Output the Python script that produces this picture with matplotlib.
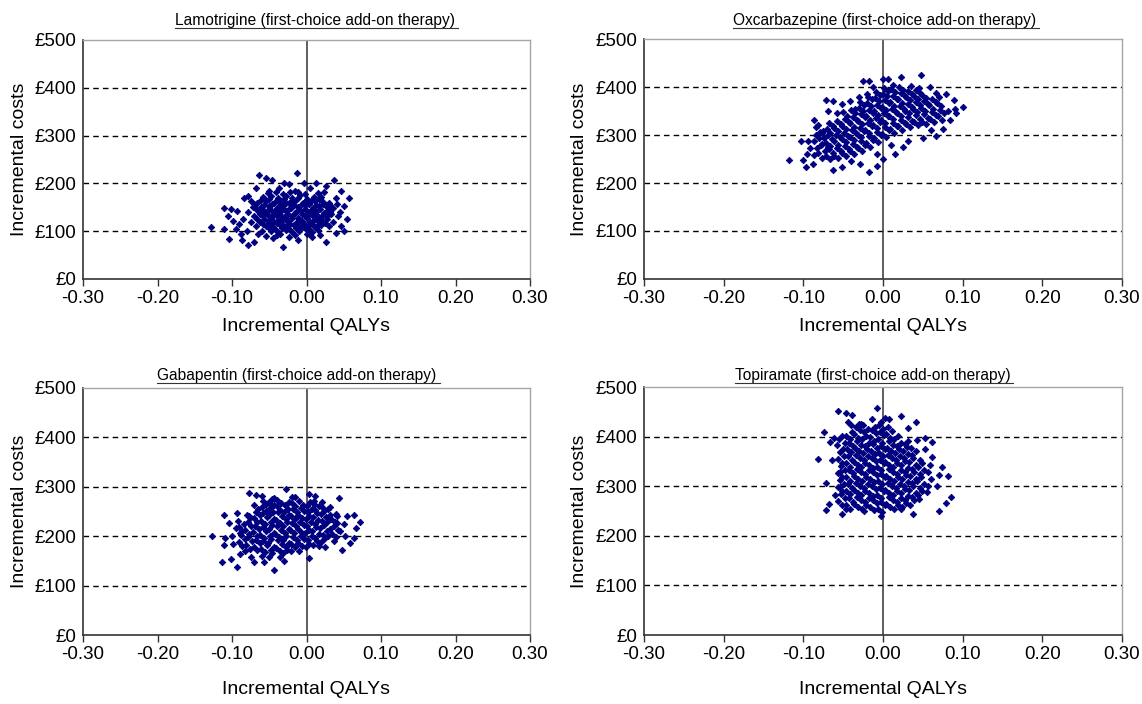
import matplotlib
matplotlib.use('Agg')
import matplotlib.pyplot as plt
from matplotlib.lines import Line2D
import numpy as np

plt.rcParams['font.family'] = ['Liberation Sans', 'DejaVu Sans']

# (incremental QALY, incremental cost in GBP)
lamotrigine = [
    (-0.058, 171), (-0.047, 174), (-0.038, 169), (-0.028, 173), (-0.020, 170), (-0.009, 175), (0.001, 168), (0.010, 172),
    (-0.066, 160), (-0.055, 163), (-0.044, 158), (-0.035, 162), (-0.024, 159), (-0.016, 164), (-0.005, 160), (0.004, 157), (0.012, 163), (0.022, 161),
    (-0.061, 150), (-0.051, 152), (-0.040, 148), (-0.031, 153), (-0.022, 149), (-0.011, 151), (-0.002, 154), (0.009, 148), (0.017, 152), (0.027, 150),
    (-0.064, 141), (-0.054, 139), (-0.046, 143), (-0.036, 140), (-0.027, 142), (-0.015, 138), (-0.007, 143), (0.003, 140), (0.013, 141), (0.023, 139),
    (-0.058, 131), (-0.048, 129), (-0.041, 133), (-0.030, 130), (-0.020, 132), (-0.012, 128), (-0.002, 131), (0.007, 133), (0.017, 129), (0.028, 131),
    (-0.062, 120), (-0.052, 122), (-0.043, 119), (-0.033, 123), (-0.025, 121), (-0.014, 118), (-0.006, 122), (0.005, 120), (0.014, 123), (0.021, 119),
    (-0.055, 111), (-0.045, 109), (-0.036, 112), (-0.027, 110), (-0.017, 113), (-0.008, 108), (0.002, 111), (0.011, 109), (0.019, 112),
    (-0.047, 101), (-0.038, 99), (-0.028, 102), (-0.019, 98), (-0.010, 100), (0.000, 103), (0.008, 99),
    (-0.052, 179), (-0.041, 182), (-0.031, 178), (-0.022, 181), (-0.012, 183), (-0.002, 177), (0.015, 180),
    (-0.061, 166), (-0.050, 168), (-0.040, 165), (-0.030, 167), (-0.019, 164), (-0.011, 169), (0.000, 166), (0.008, 165), (0.017, 168),
    (-0.070, 156), (-0.057, 155), (-0.046, 157), (-0.036, 154), (-0.027, 158), (-0.017, 155), (-0.006, 157), (0.004, 156), (0.013, 154), (0.022, 157), (0.032, 155),
    (-0.068, 146), (-0.059, 145), (-0.050, 147), (-0.041, 144), (-0.032, 146), (-0.021, 148), (-0.011, 145), (-0.002, 147), (0.008, 144), (0.018, 146), (0.029, 145),
    (-0.062, 136), (-0.053, 135), (-0.044, 137), (-0.035, 134), (-0.025, 136), (-0.016, 138), (-0.006, 135), (0.003, 137), (0.012, 136), (0.022, 134), (0.033, 137),
    (-0.067, 126), (-0.057, 125), (-0.047, 127), (-0.038, 124), (-0.029, 126), (-0.019, 128), (-0.010, 125), (0.001, 127), (0.010, 124), (0.019, 126), (0.027, 125),
    (-0.059, 116), (-0.049, 115), (-0.040, 117), (-0.031, 114), (-0.022, 116), (-0.012, 118), (-0.003, 115), (0.007, 116), (0.016, 114), (0.025, 117),
    (-0.051, 106), (-0.042, 105), (-0.033, 107), (-0.023, 104), (-0.014, 106), (-0.005, 108), (0.004, 105), (0.013, 106),
    (-0.035, 94), (-0.015, 93), (0.000, 95),
    (-0.128, 108), (-0.013, 222), (-0.064, 217), (-0.055, 212), (0.037, 207), (0.057, 169), (0.055, 126), (-0.032, 66),
    (0.026, 78), (-0.079, 71), (-0.086, 81), (-0.104, 83), (-0.111, 105), (-0.111, 149), (-0.102, 146), (-0.093, 142),
    (-0.106, 131), (-0.099, 122), (-0.095, 104), (-0.070, 78), (-0.039, 92), (-0.023, 87), (0.008, 87), (0.039, 97),
    (0.046, 111), (0.051, 153), (0.046, 184), (0.026, 194), (0.013, 201), (-0.003, 201), (-0.023, 198), (-0.037, 191),
    (-0.046, 208), (-0.079, 174), (-0.084, 170), (-0.075, 163), (0.024, 181), (0.039, 170), (0.035, 149), (0.042, 132),
    (-0.072, 150), (-0.078, 140), (-0.085, 125), (-0.075, 120), (-0.068, 110), (-0.080, 100), (-0.065, 95), (-0.055, 90),
    (-0.090, 115), (-0.070, 131), (-0.012, 82), (0.005, 95), (0.018, 92), (0.030, 110), (0.035, 120), (0.031, 140),
    (0.030, 160), (0.020, 172), (0.041, 156), (0.045, 141), (-0.050, 185), (-0.068, 190), (-0.030, 200), (0.005, 190),
    (-0.015, 185), (0.015, 103), (-0.060, 101), (-0.045, 85), (-0.088, 95), (0.050, 100),
]

oxcarbazepine = [
    (-0.086, 258), (-0.083, 272), (-0.087, 287), (-0.084, 300),
    (-0.076, 252), (-0.073, 266), (-0.077, 281), (-0.074, 294), (-0.075, 309),
    (-0.066, 250), (-0.063, 263), (-0.067, 277), (-0.064, 292), (-0.066, 305), (-0.063, 319),
    (-0.056, 253), (-0.053, 266), (-0.057, 280), (-0.054, 295), (-0.056, 308), (-0.053, 322),
    (-0.046, 256), (-0.043, 270), (-0.047, 285), (-0.044, 298), (-0.046, 312), (-0.043, 327), (-0.045, 339),
    (-0.036, 261), (-0.033, 275), (-0.037, 289), (-0.034, 304), (-0.036, 317), (-0.033, 331), (-0.035, 345),
    (-0.026, 266), (-0.023, 280), (-0.027, 295), (-0.024, 308), (-0.026, 322), (-0.023, 337), (-0.025, 350), (-0.024, 362),
    (-0.016, 276), (-0.013, 290), (-0.017, 304), (-0.014, 319), (-0.016, 332), (-0.013, 346), (-0.015, 361), (-0.014, 374),
    (-0.006, 286), (-0.003, 300), (-0.007, 315), (-0.004, 328), (-0.006, 342), (-0.003, 357), (-0.005, 370), (-0.004, 384),
    (0.004, 296), (0.007, 310), (0.003, 324), (0.006, 339), (0.004, 352), (0.007, 366), (0.005, 381), (0.006, 391),
    (0.014, 305), (0.017, 319), (0.013, 334), (0.016, 347), (0.014, 361), (0.017, 376), (0.015, 389),
    (0.024, 311), (0.027, 325), (0.023, 339), (0.026, 354), (0.024, 367), (0.027, 381), (0.025, 393),
    (0.034, 316), (0.037, 330), (0.033, 345), (0.036, 358), (0.034, 372), (0.037, 385),
    (0.044, 320), (0.047, 334), (0.043, 348), (0.046, 363), (0.044, 376), (0.047, 387),
    (0.054, 322), (0.057, 336), (0.053, 351), (0.056, 364), (0.054, 378),
    (0.064, 327), (0.067, 341), (0.063, 355), (0.066, 369),
    (0.074, 332), (0.077, 346), (0.073, 360),
    (-0.081, 262), (-0.078, 279), (-0.080, 293), (-0.079, 307), (-0.081, 320),
    (-0.071, 257), (-0.068, 270), (-0.072, 284), (-0.069, 299), (-0.070, 312), (-0.068, 326),
    (-0.061, 257), (-0.058, 273), (-0.062, 287), (-0.059, 301), (-0.061, 315), (-0.058, 329),
    (-0.051, 262), (-0.048, 277), (-0.052, 291), (-0.049, 305), (-0.051, 319), (-0.048, 333), (-0.050, 347),
    (-0.041, 267), (-0.038, 282), (-0.042, 296), (-0.039, 310), (-0.041, 324), (-0.038, 338), (-0.040, 352),
    (-0.031, 273), (-0.028, 287), (-0.032, 301), (-0.029, 315), (-0.031, 329), (-0.028, 343), (-0.030, 357), (-0.029, 369),
    (-0.021, 283), (-0.018, 297), (-0.022, 311), (-0.019, 325), (-0.021, 339), (-0.018, 353), (-0.020, 367), (-0.019, 380),
    (-0.011, 293), (-0.008, 307), (-0.012, 321), (-0.009, 335), (-0.011, 349), (-0.008, 363), (-0.010, 377), (-0.009, 390),
    (-0.001, 303), (0.002, 317), (-0.002, 331), (0.001, 345), (-0.001, 359), (0.002, 373), (0.000, 386), (0.001, 398),
    (0.009, 312), (0.012, 326), (0.008, 340), (0.011, 354), (0.009, 368), (0.012, 382), (0.010, 396),
    (0.019, 318), (0.022, 332), (0.018, 346), (0.021, 360), (0.019, 374), (0.022, 388), (0.020, 399),
    (0.029, 323), (0.032, 337), (0.028, 351), (0.031, 365), (0.029, 379), (0.032, 392),
    (0.039, 327), (0.042, 341), (0.038, 355), (0.041, 369), (0.039, 382), (0.042, 394),
    (0.049, 328), (0.052, 343), (0.048, 357), (0.051, 371), (0.049, 384),
    (0.059, 334), (0.062, 348), (0.058, 362), (0.061, 375),
    (0.069, 339), (0.072, 353), (0.068, 367),
    (-0.118, 247), (0.048, 424), (0.100, 358), (0.092, 345), (0.089, 372), (0.079, 386), (0.067, 388), (0.059, 401),
    (0.023, 420), (0.000, 417), (0.006, 417), (-0.025, 413), (-0.017, 412), (-0.086, 331), (-0.071, 372), (-0.063, 371),
    (-0.052, 364), (-0.042, 371), (-0.103, 288), (-0.094, 288), (-0.100, 247), (-0.097, 234), (-0.088, 239), (-0.063, 228),
    (-0.052, 234), (-0.029, 239), (-0.017, 223), (-0.008, 235), (0.000, 249), (0.015, 261), (0.025, 276), (0.031, 288),
    (0.050, 294), (0.067, 297), (0.075, 312), (0.084, 331), (0.082, 350), (-0.077, 305), (-0.084, 316), (-0.069, 350),
    (-0.069, 275), (-0.095, 260), (-0.092, 272), (-0.058, 345), (-0.035, 355), (-0.040, 245), (-0.012, 400), (0.012, 405),
    (0.035, 402), (0.045, 398), (-0.020, 385), (0.090, 355), (0.060, 310), (0.070, 380), (-0.008, 260), (0.010, 280),
    (-0.030, 380),
]

gabapentin = [
    (-0.086, 180), (-0.083, 195), (-0.087, 211), (-0.084, 225),
    (-0.076, 175), (-0.073, 191), (-0.077, 205), (-0.074, 220), (-0.076, 236),
    (-0.066, 172), (-0.063, 186), (-0.067, 201), (-0.064, 214), (-0.066, 229), (-0.063, 242), (-0.065, 256),
    (-0.056, 168), (-0.053, 183), (-0.057, 196), (-0.054, 211), (-0.056, 224), (-0.053, 239), (-0.055, 252), (-0.054, 266),
    (-0.046, 165), (-0.043, 179), (-0.047, 194), (-0.044, 207), (-0.046, 222), (-0.043, 235), (-0.045, 250), (-0.044, 263), (-0.046, 275),
    (-0.036, 170), (-0.033, 185), (-0.037, 198), (-0.034, 213), (-0.036, 226), (-0.033, 241), (-0.035, 254), (-0.034, 268),
    (-0.026, 172), (-0.023, 187), (-0.027, 200), (-0.024, 215), (-0.026, 228), (-0.023, 243), (-0.025, 256), (-0.024, 270),
    (-0.016, 178), (-0.013, 193), (-0.017, 206), (-0.014, 221), (-0.016, 234), (-0.013, 249), (-0.015, 262),
    (-0.006, 180), (-0.003, 195), (-0.007, 208), (-0.004, 223), (-0.006, 236), (-0.003, 251), (-0.005, 264),
    (0.004, 185), (0.007, 200), (0.003, 213), (0.006, 228), (0.004, 241), (0.007, 256), (0.005, 269),
    (0.014, 190), (0.017, 205), (0.013, 218), (0.016, 233), (0.014, 246), (0.017, 261),
    (0.024, 195), (0.027, 210), (0.023, 223), (0.026, 238), (0.024, 251),
    (0.034, 205), (0.037, 220), (0.033, 234),
    (-0.091, 188), (-0.088, 203), (-0.090, 218),
    (-0.081, 183), (-0.078, 198), (-0.082, 213), (-0.079, 228), (-0.080, 243),
    (-0.071, 179), (-0.068, 193), (-0.072, 208), (-0.069, 221), (-0.071, 236), (-0.068, 249), (-0.070, 263),
    (-0.061, 175), (-0.058, 190), (-0.062, 203), (-0.059, 218), (-0.061, 231), (-0.058, 246), (-0.060, 259), (-0.059, 272),
    (-0.051, 158), (-0.048, 172), (-0.052, 186), (-0.049, 201), (-0.051, 214), (-0.048, 229), (-0.050, 242), (-0.049, 257), (-0.051, 270),
    (-0.041, 177), (-0.038, 192), (-0.042, 205), (-0.039, 220), (-0.041, 233), (-0.038, 248), (-0.040, 261), (-0.039, 274),
    (-0.031, 165), (-0.028, 179), (-0.032, 193), (-0.029, 207), (-0.031, 221), (-0.028, 235), (-0.030, 249), (-0.029, 263),
    (-0.021, 185), (-0.018, 199), (-0.022, 213), (-0.019, 227), (-0.021, 241), (-0.018, 255), (-0.020, 268), (-0.019, 279),
    (-0.011, 187), (-0.008, 201), (-0.012, 215), (-0.009, 229), (-0.011, 243), (-0.008, 257), (-0.010, 271),
    (-0.001, 178), (0.002, 192), (-0.002, 206), (0.001, 220), (-0.001, 234), (0.002, 248), (0.000, 262),
    (0.009, 183), (0.012, 197), (0.008, 211), (0.011, 225), (0.009, 239), (0.012, 253), (0.010, 266),
    (0.019, 188), (0.022, 202), (0.018, 216), (0.021, 230), (0.019, 244), (0.022, 258),
    (0.029, 200), (0.032, 214), (0.028, 228), (0.031, 242), (0.029, 256),
    (0.039, 198), (0.042, 213), (0.038, 228), (0.041, 241),
    (-0.127, 200), (-0.028, 295), (-0.077, 287), (-0.068, 283), (-0.060, 281), (0.003, 285), (0.012, 281), (0.043, 277),
    (0.064, 243), (0.072, 228), (0.066, 217), (0.064, 197), (0.058, 187), (0.048, 173), (0.003, 155), (-0.044, 132),
    (-0.057, 148), (-0.071, 147), (-0.093, 137), (-0.113, 147), (-0.102, 153), (-0.111, 243), (-0.093, 247), (-0.077, 240),
    (-0.104, 227), (-0.109, 197), (-0.098, 185), (-0.111, 183), (-0.089, 163), (-0.075, 157), (-0.030, 150), (-0.021, 170),
    (0.017, 180), (0.037, 190), (0.052, 200), (0.041, 227), (0.055, 240), (0.032, 260), (0.021, 270), (-0.044, 277),
    (-0.051, 267), (-0.089, 207), (-0.095, 217), (-0.100, 200), (-0.092, 230), (-0.082, 170), (-0.060, 160), (0.045, 210),
    (0.040, 245), (0.050, 225), (-0.010, 170), (0.025, 178), (-0.035, 158), (-0.015, 280), (0.010, 272),
]

topiramate = [
    (-0.051, 262), (-0.048, 276), (-0.052, 291), (-0.049, 304), (-0.051, 318), (-0.048, 333), (-0.052, 346), (-0.049, 360), (-0.050, 375), (-0.048, 388), (-0.051, 402),
    (-0.041, 255), (-0.038, 269), (-0.042, 284), (-0.039, 297), (-0.041, 311), (-0.038, 326), (-0.042, 339), (-0.039, 353), (-0.040, 368), (-0.038, 381), (-0.041, 395), (-0.039, 410), (-0.040, 423),
    (-0.031, 258), (-0.028, 272), (-0.032, 287), (-0.029, 300), (-0.031, 314), (-0.028, 329), (-0.032, 342), (-0.029, 356), (-0.030, 371), (-0.028, 384), (-0.031, 398), (-0.029, 413), (-0.030, 426),
    (-0.021, 262), (-0.018, 276), (-0.022, 291), (-0.019, 304), (-0.021, 318), (-0.018, 333), (-0.022, 346), (-0.019, 360), (-0.020, 375), (-0.018, 388), (-0.021, 402), (-0.019, 416),
    (-0.011, 252), (-0.008, 266), (-0.012, 281), (-0.009, 294), (-0.011, 308), (-0.008, 323), (-0.012, 336), (-0.009, 350), (-0.010, 365), (-0.008, 378), (-0.011, 392), (-0.009, 407), (-0.010, 420),
    (-0.001, 248), (0.002, 262), (-0.002, 277), (0.001, 290), (-0.001, 304), (0.002, 319), (-0.002, 332), (0.001, 346), (0.000, 361), (0.002, 374), (-0.001, 388), (0.001, 403), (0.000, 416), (-0.002, 430),
    (0.009, 258), (0.012, 272), (0.008, 287), (0.011, 300), (0.009, 314), (0.012, 329), (0.008, 342), (0.011, 356), (0.010, 371), (0.012, 384), (0.009, 398), (0.011, 412),
    (0.019, 262), (0.022, 276), (0.018, 291), (0.021, 304), (0.019, 318), (0.022, 333), (0.018, 346), (0.021, 360), (0.020, 375), (0.022, 388), (0.019, 402),
    (0.029, 266), (0.032, 280), (0.028, 295), (0.031, 308), (0.029, 322), (0.032, 337), (0.028, 350), (0.031, 364), (0.030, 379), (0.032, 392),
    (0.039, 272), (0.042, 286), (0.038, 301), (0.041, 314), (0.039, 328), (0.042, 343), (0.038, 356), (0.041, 370),
    (0.049, 290), (0.052, 304), (0.048, 319), (0.051, 332), (0.049, 346),
    (-0.056, 270), (-0.053, 284), (-0.057, 298), (-0.054, 312), (-0.056, 326), (-0.053, 340), (-0.057, 354), (-0.054, 368), (-0.055, 396),
    (-0.046, 262), (-0.043, 276), (-0.047, 290), (-0.044, 304), (-0.046, 318), (-0.043, 332), (-0.047, 346), (-0.044, 360), (-0.045, 374), (-0.043, 388), (-0.046, 402), (-0.044, 430),
    (-0.036, 265), (-0.033, 279), (-0.037, 293), (-0.034, 307), (-0.036, 321), (-0.033, 335), (-0.037, 349), (-0.034, 363), (-0.035, 377), (-0.033, 391), (-0.036, 405), (-0.034, 419),
    (-0.026, 255), (-0.023, 269), (-0.027, 283), (-0.024, 297), (-0.026, 311), (-0.023, 325), (-0.027, 339), (-0.024, 353), (-0.025, 367), (-0.023, 381), (-0.026, 395), (-0.024, 409), (-0.025, 423),
    (-0.016, 259), (-0.013, 273), (-0.017, 287), (-0.014, 301), (-0.016, 315), (-0.013, 329), (-0.017, 343), (-0.014, 357), (-0.015, 371), (-0.013, 385), (-0.016, 399), (-0.014, 413),
    (-0.006, 255), (-0.003, 269), (-0.007, 283), (-0.004, 297), (-0.006, 311), (-0.003, 325), (-0.007, 339), (-0.004, 353), (-0.005, 367), (-0.003, 381), (-0.006, 395), (-0.004, 409), (-0.005, 423),
    (0.004, 265), (0.007, 279), (0.003, 293), (0.006, 307), (0.004, 321), (0.007, 335), (0.003, 349), (0.006, 363), (0.005, 377), (0.007, 391), (0.004, 405), (0.006, 420),
    (0.014, 255), (0.017, 269), (0.013, 283), (0.016, 297), (0.014, 311), (0.017, 325), (0.013, 339), (0.016, 353), (0.015, 367), (0.017, 381), (0.014, 395),
    (0.024, 259), (0.027, 273), (0.023, 287), (0.026, 301), (0.024, 315), (0.027, 329), (0.023, 343), (0.026, 357), (0.025, 371), (0.027, 385),
    (0.034, 263), (0.037, 279), (0.033, 293), (0.036, 307), (0.034, 321), (0.037, 335), (0.033, 349), (0.036, 363), (0.035, 377),
    (0.044, 283), (0.047, 297), (0.043, 311), (0.046, 325), (0.044, 339), (0.047, 353),
    (0.057, 300), (0.060, 314), (0.056, 328), (0.059, 342),
    (-0.008, 458), (-0.056, 451), (-0.047, 448), (-0.039, 443), (0.022, 441), (-0.074, 409), (-0.081, 354), (-0.071, 307),
    (-0.068, 264), (-0.071, 252), (-0.051, 244), (-0.047, 255), (-0.003, 240), (0.038, 244), (0.070, 250), (0.079, 266),
    (0.085, 278), (0.082, 320), (0.074, 339), (0.070, 323), (0.062, 359), (0.053, 376), (0.062, 390), (0.041, 429),
    (0.032, 418), (0.007, 436), (0.003, 437), (-0.014, 436), (-0.028, 425), (-0.062, 397), (-0.066, 390), (-0.058, 383),
    (-0.064, 352), (-0.054, 329), (-0.054, 298), (-0.060, 282), (0.068, 301), (0.055, 288), (0.045, 274), (0.022, 254),
    (-0.024, 250), (0.053, 398), (0.043, 393),
]

titles = [
    "Lamotrigine (first-choice add-on therapy)",
    "Oxcarbazepine (first-choice add-on therapy)",
    "Gabapentin (first-choice add-on therapy)",
    "Topiramate (first-choice add-on therapy)",
]
x_ticks = [-0.3, -0.2, -0.1, 0.0, 0.1, 0.2, 0.3]
x_ticklabels = ["-0.30", "-0.20", "-0.10", "0.00", "0.10", "0.20", "0.30"]
y_ticks = [0, 100, 200, 300, 400, 500]
y_ticklabels = ["£0", "£100", "£200", "£300", "£400", "£500"]

W, H = 1142, 704
fig = plt.figure(figsize=(W / 100, H / 100), dpi=100)

# pixel boxes of the four plot areas: left, right, top, bottom
boxes = [(83, 530, 40, 279), (644, 1122, 39, 279), (83, 530, 388, 635), (644, 1122, 387, 635)]
# title centre (axes fraction) and baseline (pixels from top)
title_cx = [0.519, 0.504, 0.479, 0.478]
title_base = [25, 25, 380, 380]
xlabel_px = [327, 327, 690, 690]
ylabel_px = [20, 580, 20, 580]

title_texts = []
for i, data in enumerate([lamotrigine, oxcarbazepine, gabapentin, topiramate]):
    l, r, t, b = boxes[i]
    ax = fig.add_axes([l / W, 1 - b / H, (r - l) / W, (b - t) / H])
    pts = np.array(data)
    ax.set_xlim(-0.3, 0.3)
    ax.set_ylim(0, 500)
    for yv in y_ticks[1:-1]:
        ax.axhline(yv, color='black', lw=1, ls=(0, (4, 3)), zorder=1)
    ax.axvline(0, color='#333333', lw=1.1, zorder=1)
    ax.plot(pts[:, 0], pts[:, 1], 'D', color='#000080', ms=3.3, mew=0.6,
            mec='#000080', ls='none', zorder=3)

    ax.set_xticks(x_ticks)
    ax.set_xticklabels(x_ticklabels, fontsize=13.5)
    ax.set_yticks(y_ticks)
    ax.set_yticklabels(y_ticklabels, fontsize=13.5)
    ax.tick_params(axis='x', direction='out', length=5, width=1, color='#333333', pad=3)
    ax.tick_params(axis='y', length=0, pad=5)
    for side in ['top', 'right']:
        ax.spines[side].set_color('#a6a6a6')
        ax.spines[side].set_linewidth(1)
    for side in ['left', 'bottom']:
        ax.spines[side].set_color('#333333')
        ax.spines[side].set_linewidth(1.2)

    ax.set_xlabel("Incremental QALYs", fontsize=14)
    ax.set_ylabel("Incremental costs", fontsize=14)
    ax.xaxis.set_label_coords(0.5, (b - xlabel_px[i]) / (b - t))
    ax.xaxis.label.set_va('center')
    ax.yaxis.set_label_coords((ylabel_px[i] - l) / (r - l), 0.5)
    ax.yaxis.label.set_va('center')

    tt = ax.text(title_cx[i], (b - title_base[i]) / (b - t), titles[i],
                 transform=ax.transAxes, ha='center', va='baseline', fontsize=11.2)
    title_texts.append((tt, title_base[i]))

# underline the panel titles
fig.canvas.draw()
renderer = fig.canvas.get_renderer()
for tt, base in title_texts:
    bb = tt.get_window_extent(renderer)
    y = 1 - (base + 2.5) / H
    fig.add_artist(Line2D([bb.x0 / W, (bb.x1 + 3) / W], [y, y], color='#333333', lw=0.8))

fig.savefig('out.png', dpi=100, facecolor='white')
